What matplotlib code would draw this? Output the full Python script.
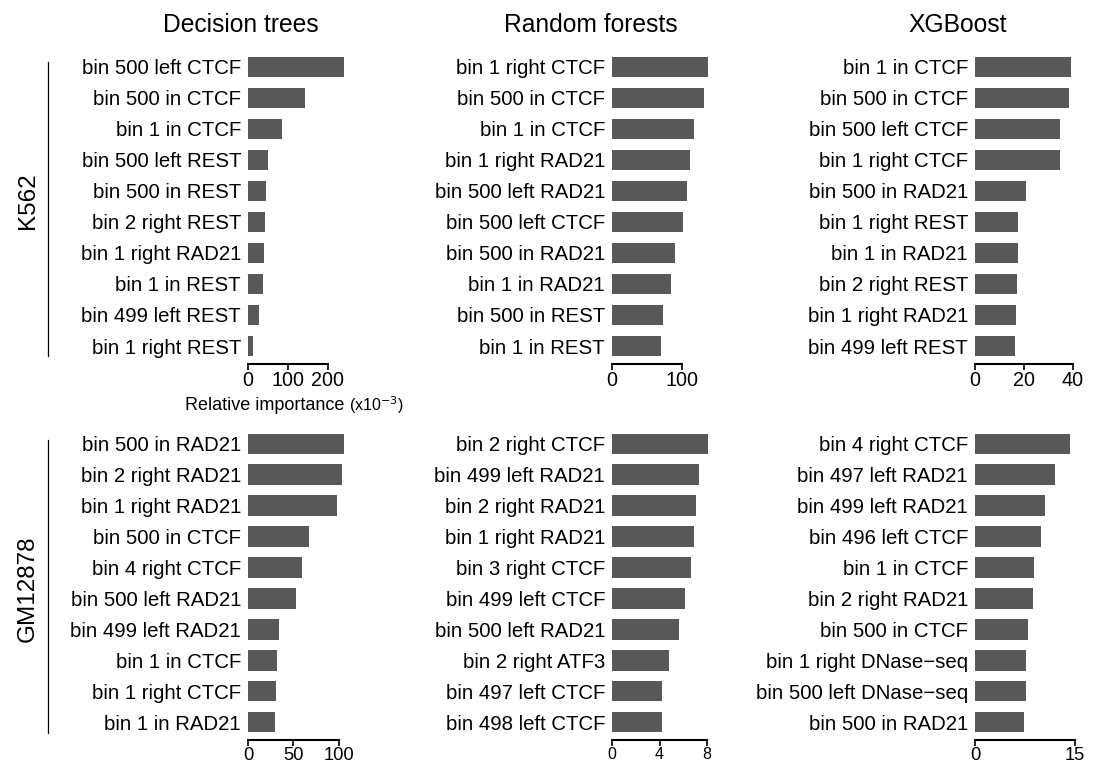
import matplotlib
matplotlib.use("Agg")
import matplotlib.pyplot as plt

plt.rcParams['font.family'] = ['Liberation Sans', 'DejaVu Sans']

MINUS = "\u2212"

# ---- data (top-to-bottom order as shown) ----
k562_dt_labels = ["bin 500 left CTCF", "bin 500 in CTCF", "bin 1 in CTCF", "bin 500 left REST",
                  "bin 500 in REST", "bin 2 right REST", "bin 1 right RAD21", "bin 1 in REST",
                  "bin 499 left REST", "bin 1 right REST"]
k562_dt_values = [240, 142, 85, 50, 45, 42.5, 40, 37.5, 27.5, 12.5]

k562_rf_labels = ["bin 1 right CTCF", "bin 500 in CTCF", "bin 1 in CTCF", "bin 1 right RAD21",
                  "bin 500 left RAD21", "bin 500 left CTCF", "bin 500 in RAD21", "bin 1 in RAD21",
                  "bin 500 in REST", "bin 1 in REST"]
k562_rf_values = [137, 131, 117, 111, 107, 101, 90, 84, 73, 70]

k562_xgb_labels = ["bin 1 in CTCF", "bin 500 in CTCF", "bin 500 left CTCF", "bin 1 right CTCF",
                   "bin 500 in RAD21", "bin 1 right REST", "bin 1 in RAD21", "bin 2 right REST",
                   "bin 1 right RAD21", "bin 499 left REST"]
k562_xgb_values = [39.2, 38.4, 34.7, 34.7, 20.8, 17.6, 17.6, 17.1, 16.7, 16.3]

gm_dt_labels = ["bin 500 in RAD21", "bin 2 right RAD21", "bin 1 right RAD21", "bin 500 in CTCF",
                "bin 4 right CTCF", "bin 500 left RAD21", "bin 499 left RAD21", "bin 1 in CTCF",
                "bin 1 right CTCF", "bin 1 in RAD21"]
gm_dt_values = [105.5, 103, 98, 67, 59, 53, 34, 32, 31, 30]

gm_rf_labels = ["bin 2 right CTCF", "bin 499 left RAD21", "bin 2 right RAD21", "bin 1 right RAD21",
                "bin 3 right CTCF", "bin 499 left CTCF", "bin 500 left RAD21", "bin 2 right ATF3",
                "bin 497 left CTCF", "bin 498 left CTCF"]
gm_rf_values = [8.08, 7.33, 7.07, 6.9, 6.65, 6.15, 5.64, 4.8, 4.2, 4.2]

gm_xgb_labels = ["bin 4 right CTCF", "bin 497 left RAD21", "bin 499 left RAD21", "bin 496 left CTCF",
                 "bin 1 in CTCF", "bin 2 right RAD21", "bin 500 in CTCF",
                 "bin 1 right DNase" + MINUS + "seq", "bin 500 left DNase" + MINUS + "seq",
                 "bin 500 in RAD21"]
gm_xgb_values = [14.26, 12.0, 10.55, 9.95, 8.9, 8.77, 8.0, 7.7, 7.7, 7.4]

col_titles = ["Decision trees", "Random forests", "XGBoost"]
row_titles = ["K562", "GM12878"]

ticks = [[[0, 100, 200], [0, 100], [0, 20, 40]],
         [[0, 50, 100], [0, 4, 8], [0, 15]]]

# ---- layout ----
W, H = 1093, 765
fig = plt.figure(figsize=(W / 100, H / 100), dpi=100)

zero_px = [248, 612, 975]
ax_w_px = 100
xmax = [[250, 143, 40.8], [110, 8.42, 14.86]]
row_top = [52, 429]
row_bot = [364, 740]
tick_fs = [[14.2, 14.2, 14.2], [13.2, 11.5, 13.2]]

panels = [[(k562_dt_labels, k562_dt_values), (k562_rf_labels, k562_rf_values), (k562_xgb_labels, k562_xgb_values)],
          [(gm_dt_labels, gm_dt_values), (gm_rf_labels, gm_rf_values), (gm_xgb_labels, gm_xgb_values)]]

bar_color = "#595959"

for r in range(2):
    for c in range(3):
        labels, vals = panels[r][c]
        left = zero_px[c] / W
        bottom = 1 - row_bot[r] / H
        height = (row_bot[r] - row_top[r]) / H
        ax = fig.add_axes([left, bottom, ax_w_px / W, height])
        n = len(vals)
        ypos = list(range(n - 1, -1, -1))
        ax.barh(ypos, vals, height=0.667, color=bar_color, edgecolor="none")
        ax.set_ylim(-0.58, n - 1 + 0.48)
        ax.set_xlim(0, xmax[r][c])
        ax.set_yticks(ypos)
        ax.set_yticklabels(labels, fontsize=14.7)
        ax.tick_params(axis="y", length=0, pad=5)
        ax.set_xticks(ticks[r][c])
        ax.set_xticklabels([str(t) for t in ticks[r][c]], fontsize=tick_fs[r][c])
        ax.tick_params(axis="x", length=4, width=1.2, direction="out", pad=1)
        for s in ["top", "right", "left"]:
            ax.spines[s].set_visible(False)
        ax.spines["bottom"].set_bounds(ticks[r][c][0], ticks[r][c][-1])
        ax.spines["bottom"].set_linewidth(1.5)
        ax.patch.set_alpha(0)

# column titles
title_x = [241, 591, 958]
for c in range(3):
    fig.text(title_x[c] / W, 1 - 25 / H, col_titles[c], ha="center", va="center", fontsize=17.7)

# row titles and vertical lines
row_center = [201, 589]
line_ext = [(62, 356), (440, 733)]
for r in range(2):
    fig.text(28 / W, 1 - row_center[r] / H, row_titles[r], rotation=90, ha="center", va="center", fontsize=17.5)
    fig.add_artist(plt.Line2D([48 / W, 48 / W], [1 - line_ext[r][0] / H, 1 - line_ext[r][1] / H],
                              color="black", lw=0.9))

# axis note
fig.text(185 / W, 1 - 406 / H, "Relative importance", ha="left", va="center", fontsize=13)
fig.text(349 / W, 1 - 405 / H, "(x10$^{-3}$)", ha="left", va="center", fontsize=11.5)

fig.savefig("out.png", dpi=100)
